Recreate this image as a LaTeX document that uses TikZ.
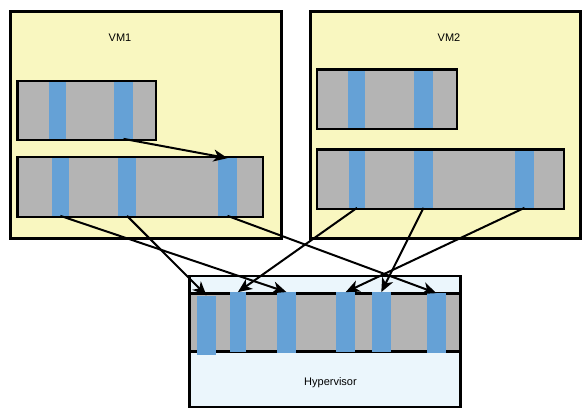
\documentclass[tikz,border=0pt]{standalone}
\usepackage{fontspec}
\setmainfont{Liberation Sans}
\usepackage{tikz}
\usetikzlibrary{arrows.meta}
\definecolor{vmyellow}{HTML}{F9F7C0}
\definecolor{bargray}{HTML}{B4B4B4}
\definecolor{slotblue}{HTML}{65A1D6}
\definecolor{hypblue}{HTML}{EBF6FC}

\begin{document}
\begin{tikzpicture}[x=1pt, y=-1pt,
		box/.style={draw, line width=3pt, inner sep=0pt},
		bar/.style={draw, fill=bargray, line width=2.7pt, inner sep=0pt},
		slot/.style={fill=slotblue, inner sep=0pt},
		arr/.style={line width=2pt, -{Stealth[length=14pt, width=12pt, inset=4pt]}},
		lbl/.style={font=\fontsize{11}{13}\selectfont}]
				\useasboundingbox (0,0) rectangle (584,415);
				
				% virtual machines
				\node[box, fill=vmyellow, minimum width=271pt, minimum height=227.5pt] (vm1) at (145.5,124.75) {};
				\node[box, fill=vmyellow, minimum width=270pt, minimum height=227pt] (vm2) at (445,124.5) {};
				\node[lbl] (vm1l) at (120,38) {VM1};
				\node[lbl] (vm2l) at (449,38) {VM2};
				
				\node[bar, minimum width=138.5pt, minimum height=59pt] (b11) at (86.75,110.5) {};
				\node[bar, minimum width=245.5pt, minimum height=60pt] (b12) at (140.25,187) {};
				\node[bar, minimum width=140pt, minimum height=59.5pt] (b21) at (387,99.25) {};
				\node[bar, minimum width=247pt, minimum height=59.5pt] (b22) at (440.5,179.25) {};
				
				\node[slot, minimum width=17pt, minimum height=56.3pt] (s111) at (57.5,110.5) {};
				\node[slot, minimum width=19pt, minimum height=56.3pt] (s112) at (123.5,110.5) {};
				\node[slot, minimum width=17.3pt, minimum height=57.3pt] (s121) at (60.3,187) {};
				\node[slot, minimum width=18pt, minimum height=57.3pt] (s122) at (127,187) {};
				\node[slot, minimum width=19pt, minimum height=57.3pt] (s123) at (227.5,187) {};
				\node[slot, minimum width=17pt, minimum height=56.8pt] (s211) at (356.5,99.25) {};
				\node[slot, minimum width=19pt, minimum height=56.8pt] (s212) at (423.5,99.25) {};
				\node[slot, minimum width=16pt, minimum height=56.8pt] (s221) at (357,179.25) {};
				\node[slot, minimum width=19pt, minimum height=56.8pt] (s222) at (423.5,179.25) {};
				\node[slot, minimum width=19pt, minimum height=56.8pt] (s223) at (524.5,179.25) {};
				
				% hypervisor
				\node[box, fill=hypblue, line width=2.7pt, minimum width=271pt, minimum height=131pt] (hyp) at (325,341.5) {};
				\node[bar, minimum width=271pt, minimum height=58pt] (hbar) at (325,322.5) {};
				\node[lbl] (hypl) at (330.5,383) {Hypervisor};
				
				\node[slot, minimum width=18.4pt, minimum height=59.3pt] (h1) at (206.5,325.35) {};
				\node[slot, minimum width=15.7pt, minimum height=59.4pt] (h2) at (237.9,322) {};
				\node[slot, minimum width=18.7pt, minimum height=60.7pt] (h3) at (286.4,322.6) {};
				\node[slot, minimum width=18.7pt, minimum height=59.4pt] (h4) at (345.7,322) {};
				\node[slot, minimum width=18.7pt, minimum height=59.4pt] (h5) at (381.3,322) {};
				\node[slot, minimum width=18.7pt, minimum height=59.7pt] (h6) at (436.4,323.2) {};
				
				% mappings
				\draw[arr] (s112.south) -- (s123.north);
				\draw[arr] (s121.south) -- (h3.north);
				\draw[arr] (s122.south) -- (h1.north);
				\draw[arr] (s123.south) -- (h6.north);
				\draw[arr] (s221.south) -- (h2.north);
				\draw[arr] (s222.south) -- (h5.north);
				\draw[arr] (s223.south) -- (h4.north);
			\end{tikzpicture}
\end{document}
